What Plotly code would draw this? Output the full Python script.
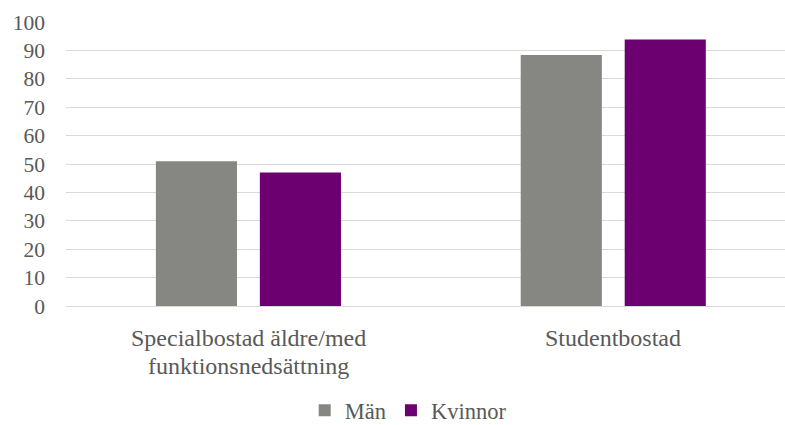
import plotly.graph_objects as go

# ---- data ----
categories = ["Specialbostad äldre/med funktionsnedsättning", "Studentbostad"]
category_label_lines = [["Specialbostad äldre/med", "funktionsnedsättning"], ["Studentbostad"]]
series_names = ["Män", "Kvinnor"]
man_values = [51, 88.4]
kvinnor_values = [47, 93.8]
y_ticks = [0, 10, 20, 30, 40, 50, 60, 70, 80, 90, 100]

# ---- style ----
FONT = "Liberation Serif"
TEXT_COLOR = "#595959"
GRID_COLOR = "#d9d9d9"
colors = ["#868782", "#6d0071"]

fig = go.Figure()
for name, vals, col in zip(series_names, [man_values, kvinnor_values], colors):
    fig.add_trace(go.Bar(
        x=categories, y=vals, name=name,
        marker=dict(color=col, line=dict(width=0)),
        hoverinfo="x+y+name",
    ))

# category labels as annotations (two-line with Excel-like spacing)
line_shifts = [-32, -60]
for cat, lines in zip(categories, category_label_lines):
    for i, line in enumerate(lines):
        fig.add_annotation(
            x=cat, xref="x", y=0, yref="paper",
            text=line, showarrow=False,
            xanchor="center", yanchor="middle",
            yshift=line_shifts[i],
            font=dict(family=FONT, size=24, color=TEXT_COLOR),
        )

fig.update_layout(
    width=785, height=425,
    margin=dict(l=66, r=0, t=22, b=119, pad=0),
    paper_bgcolor="white", plot_bgcolor="white",
    barmode="group", bargap=0.43, bargroupgap=0.22,
    font=dict(family=FONT, color=TEXT_COLOR),
    showlegend=True,
    legend=dict(
        orientation="h",
        xref="container", yref="container",
        x=0.52, xanchor="center",
        y=0.034, yanchor="middle",
        font=dict(family=FONT, size=22.5, color=TEXT_COLOR),
        itemwidth=30,
        traceorder="normal",
    ),
)

fig.update_xaxes(
    type="category",
    range=[-0.5, 1.4707],
    showticklabels=False,
    showgrid=False, zeroline=False, showline=False, ticks="",
)
fig.update_yaxes(
    range=[0, 100],
    tickvals=y_ticks,
    ticktext=[str(v) for v in y_ticks],
    tickfont=dict(family=FONT, size=21.5, color=TEXT_COLOR),
    showgrid=True, gridcolor=GRID_COLOR, gridwidth=1,
    zeroline=True, zerolinecolor=GRID_COLOR, zerolinewidth=1,
    showline=False, ticks="",
    ticklabelstandoff=20,
)

fig.write_html(
    "out.html",
    config={"displayModeBar": False},
    post_script="document.body.style.margin='0';document.body.style.overflow='hidden';",
)
